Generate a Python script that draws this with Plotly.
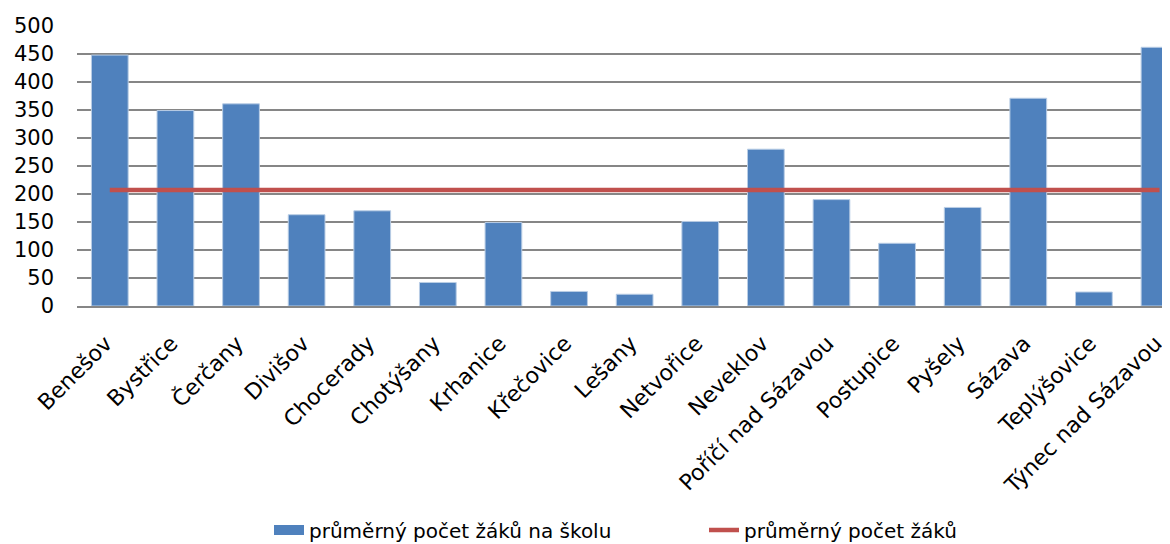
import plotly.graph_objects as go

categories = ["Benešov", "Bystřice", "Čerčany", "Divišov", "Chocerady", "Chotýšany",
              "Krhanice", "Křečovice", "Lešany", "Netvořice", "Neveklov",
              "Poříčí nad Sázavou", "Postupice", "Pyšely", "Sázava", "Teplýšovice",
              "Týnec nad Sázavou"]
school_avg = [448, 349, 361, 163, 170, 42, 149, 26, 21, 151, 280, 190, 112, 176, 371, 25, 462]
overall_avg = [207] * len(categories)
y_ticks = [0, 50, 100, 150, 200, 250, 300, 350, 400, 450, 500]

FONT = "DejaVu Sans, sans-serif"
BLUE = "#4F81BD"
RED = "#C0504D"

# the page body adds an 8px offset, so the figure is 8px smaller and shifted
W, H = 1162, 536
L, T, B = 69, 18, 238

fig = go.Figure()
fig.add_trace(go.Bar(
    x=categories, y=school_avg, name="průměrný počet žáků na školu",
    marker=dict(color=BLUE, line=dict(color="#B9CDE5", width=1)),
    showlegend=False,
))
# legend-only entry giving the wide rectangular swatch of the bar series
fig.add_trace(go.Scatter(
    x=[None], y=[None], name="průměrný počet žáků na školu", mode="lines",
    line=dict(color=BLUE, width=18), showlegend=True,
))
fig.add_trace(go.Scatter(
    x=categories, y=overall_avg, name="průměrný počet žáků", mode="lines",
    line=dict(color=RED, width=4.5),
))

plot_w = W - L
fig.update_layout(
    width=W, height=H,
    margin=dict(l=L, r=0, t=T, b=B, autoexpand=False),
    paper_bgcolor="white", plot_bgcolor="white",
    font=dict(family=FONT, size=20, color="black"),
    bargap=0.44,
    showlegend=True,
    legend=dict(orientation="h", x=(261 - L) / plot_w, xanchor="left", y=-0.80,
                yanchor="middle", font=dict(size=20), entrywidth=390,
                entrywidthmode="pixels", traceorder="normal"),
)
fig.update_xaxes(
    type="category", range=[-0.5, 16.16], tickangle=-45, automargin=False,
    showline=True, linecolor="#868686", linewidth=1.5,
    showgrid=False, ticks="", ticklabelstandoff=14, ticklabelshift=-4,
    tickfont=dict(size=22),
)
fig.update_yaxes(
    range=[0, 500], tickvals=y_ticks, showgrid=True, gridcolor="#868686", gridwidth=1.5,
    zeroline=False, showline=False, ticks="", ticklabelstandoff=22, automargin=False,
    tickfont=dict(size=21),
)

fig.write_html("out.html")
